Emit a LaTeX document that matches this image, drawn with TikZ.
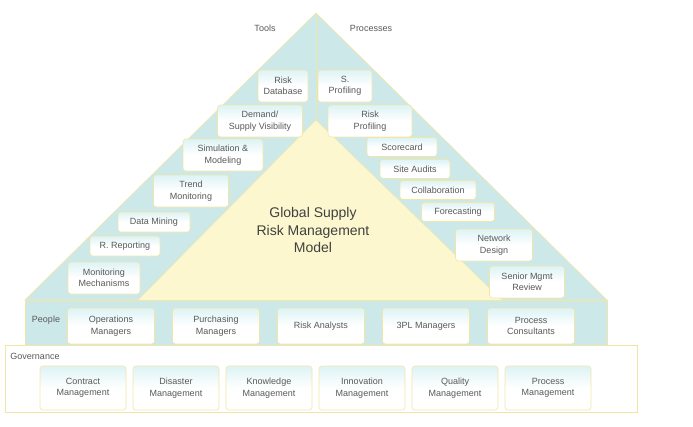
\documentclass[tikz,border=0pt]{standalone}
\usepackage{fontspec}
\setmainfont{Liberation Sans}
\begin{document}
\begin{tikzpicture}[x=1pt,y=-1pt,
  every node/.style={font=\fontsize{9}{11.5}\selectfont,text=black!65,align=center},
  bx/.style={draw=yellowline,line width=0.6pt,rounded corners=3pt,top color=boxtop,bottom color=white,middle color=white,inner sep=1pt,minimum height=#1},
  bx/.default=32,
  lbl/.style={inner sep=1pt}]
\definecolor{cyanfill}{HTML}{CDE8E8}
\definecolor{yellowline}{HTML}{F2E6A6}
\definecolor{innerfill}{HTML}{FCF7CF}
\definecolor{boxtop}{HTML}{DDF3F5}
\useasboundingbox (0,0) rectangle (693,426);
\fill[white] (0,0) rectangle (693,426);
% big triangle
\path[fill=cyanfill,draw=yellowline,line width=0.6pt] (316,13) -- (607,300) -- (25,300) -- cycle;
\draw[yellowline,line width=0.6pt] (316,13) -- (316,120);
% inner triangle
\path[fill=innerfill,draw=yellowline] (316,120) -- (505,303) -- (135,303) -- cycle;
% people band
\path[fill=cyanfill,draw=yellowline,line width=0.6pt] (25,300) -- (607,300) -- (607,345) -- (25,345) -- cycle;
% governance band
\path[fill=white,draw=yellowline,line width=0.6pt] (5,345) rectangle (637,412);
\node[lbl] (tools) at (265,28) {Tools};
\node[lbl] (proc) at (371,28) {Processes};
\node[font=\fontsize{14}{17.5}\selectfont,text=black!75] (title) at (313,230) {Global Supply\\Risk Management\\Model};
% left
\node[bx,minimum width=50] (l1) at (283,86) {Risk\\Database};
\node[bx,minimum width=85] (l2) at (260,121) {Demand/\\Supply Visibility};
\node[bx,minimum width=80] (l3) at (223,155) {Simulation \&\\Modeling};
\node[bx,minimum width=75] (l4) at (191,191) {Trend\\Monitoring};
\node[bx=20,minimum width=72] (l5) at (154,222) {Data Mining};
\node[bx=20,minimum width=70] (l6) at (125,246) {R. Reporting};
\node[bx,minimum width=72] (l7) at (104,278) {Monitoring\\Mechanisms};
% right
\node[bx,minimum width=54] (r1) at (345,86) {S.\\Profiling};
\node[bx,minimum width=84] (r2) at (370,121) {Risk\\Profiling};
\node[bx=19,minimum width=70] (r3) at (402,147) {Scorecard};
\node[bx=19,minimum width=70] (r4) at (415,169) {Site Audits};
\node[bx=19,minimum width=76] (r5) at (438,190) {Collaboration};
\node[bx=19,minimum width=73] (r6) at (458,212) {Forecasting};
\node[bx,minimum width=77] (r7) at (494,245) {Network\\Design};
\node[bx,minimum width=75] (r8) at (527,282) {Senior Mgmt\\Review};
% people
\node[lbl] (people) at (46,320) {People};
\foreach \x/\t [count=\i] in {111/Operations\\Managers,216/Purchasing\\Managers,321/Risk Analysts,426/3PL Managers,531/Process\\Consultants}
  \node[bx=36,minimum width=87] (p\i) at (\x,326) {\t};
% governance
\node[lbl] (gov) at (35,356) {Governance};
\foreach \x/\t [count=\i] in {83/Contract,176/Disaster,269/Knowledge,362/Innovation,455/Quality,548/Process}
  \node[bx=44,minimum width=86] (g\i) at (\x,388) {\t\\Management};
\end{tikzpicture}
\end{document}
